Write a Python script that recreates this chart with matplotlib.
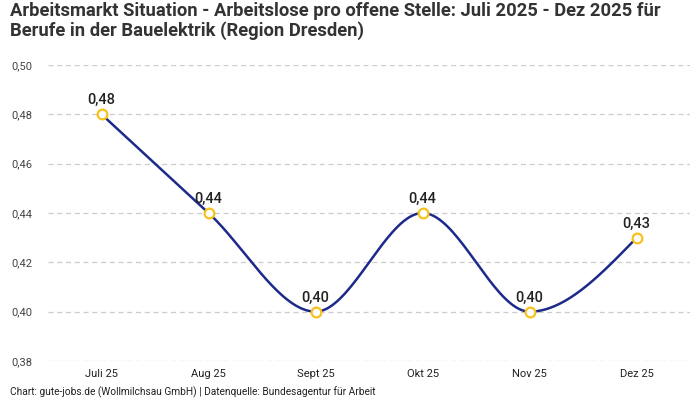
import numpy as np
import matplotlib
matplotlib.use("Agg")
import matplotlib.pyplot as plt

months = ["Juli 25", "Aug 25", "Sept 25", "Okt 25", "Nov 25", "Dez 25"]
values = [0.48, 0.44, 0.40, 0.44, 0.40, 0.43]
yticks = [0.38, 0.40, 0.42, 0.44, 0.46, 0.48, 0.50]

title = ("Arbeitsmarkt Situation - Arbeitslose pro offene Stelle: Juli 2025 - Dez 2025 für\n"
         "Berufe in der Bauelektrik (Region Dresden)")
footer = "Chart: gute-jobs.de (Wollmilchsau GmbH) | Datenquelle: Bundesagentur für Arbeit"

LINE = "#1c2a8a"
MARK = "#f7c21b"
GRID = "#cccccc"
TXT = "#222222"

plt.rcParams["font.family"] = ["Roboto", "DejaVu Sans"]


def monotone_x(x, y, n=40):
    # d3 curveMonotoneX style tangents
    x = np.asarray(x, float)
    y = np.asarray(y, float)
    h = np.diff(x)
    s = np.diff(y) / h
    t = np.zeros_like(y)
    for i in range(1, len(y) - 1):
        h0, h1 = h[i - 1], h[i]
        s0, s1 = s[i - 1], s[i]
        p = (s0 * h1 + s1 * h0) / (h0 + h1)
        t[i] = (np.sign(s0) + np.sign(s1)) * min(abs(s0), abs(s1), 0.5 * abs(p))
    t[0] = (3 * s[0] - t[1]) / 2
    t[-1] = (3 * s[-1] - t[-2]) / 2
    xs, ys = [], []
    for i in range(len(x) - 1):
        u = np.linspace(0, 1, n)
        h00 = 2 * u**3 - 3 * u**2 + 1
        h10 = u**3 - 2 * u**2 + u
        h01 = -2 * u**3 + 3 * u**2
        h11 = u**3 - u**2
        xs.append(x[i] + u * h[i])
        ys.append(h00 * y[i] + h10 * h[i] * t[i] + h01 * y[i + 1] + h11 * h[i] * t[i + 1])
    return np.concatenate(xs), np.concatenate(ys)


fig = plt.figure(figsize=(7, 4), dpi=100)
ax = fig.add_axes([0.0686, 0.0975, 0.9174, 0.74])

xpos = np.arange(len(months))
cx, cy = monotone_x(xpos, values)
ax.plot(cx, cy, color=LINE, lw=1.8, zorder=3, solid_capstyle="round")
ax.plot(xpos, values, ls="none", marker="o", ms=7, mfc="white", mec=MARK, mew=1.6, zorder=4)

for xi, v in zip(xpos, values):
    ax.annotate(f"{v:.2f}".replace(".", ","), (xi, v), xytext=(0, 5), textcoords="offset points",
                ha="center", va="bottom", fontsize=10.5, fontweight="medium", color=TXT)

ax.set_xlim(-0.5, len(months) - 0.5)
ax.set_ylim(0.38, 0.50)
ax.set_yticks(yticks)
ax.set_yticklabels([f"{v:.2f}".replace(".", ",") for v in yticks])
ax.set_xticks(xpos)
ax.set_xticklabels(months)
ax.tick_params(axis="y", length=0, pad=11, labelsize=8, labelcolor="#444444")
ax.tick_params(axis="x", length=0, pad=6, labelsize=8, labelcolor=TXT)
ax.grid(axis="y", color=GRID, ls=(0, (4, 3)), lw=0.9)
ax.set_axisbelow(True)
for sp in ax.spines.values():
    sp.set_visible(False)

fig.text(0.014, 0.995, title, ha="left", va="top", fontsize=13.2, fontweight="bold",
         color="#333333", linespacing=1.05)
fig.text(0.014, 0.004, footer, ha="left", va="bottom", fontsize=7.3, color=TXT)

fig.savefig("out.png", dpi=100)
